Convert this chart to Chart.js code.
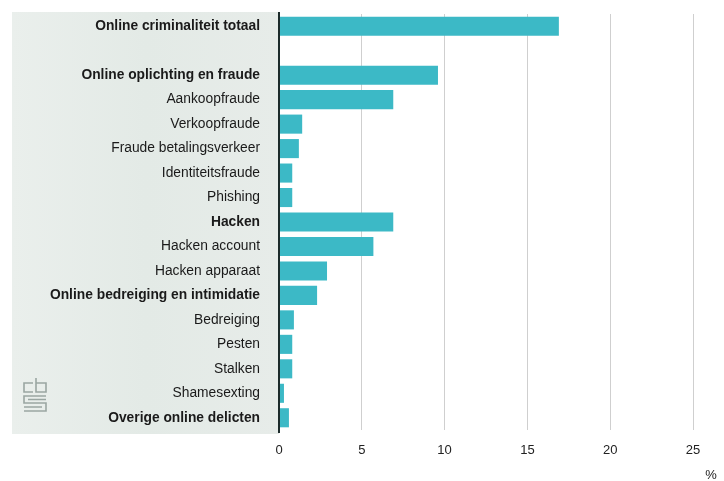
<!DOCTYPE html>
<html>
<head>
<meta charset="utf-8">
<script src="https://cdn.jsdelivr.net/npm/chart.js@4.4.0/dist/chart.umd.min.js"></script>
<style>
  html, body { margin: 0; padding: 0; background: #fff; }
  #wrap { width: 724px; height: 481px; position: relative; }
</style>
</head>
<body>
<div id="wrap"><canvas id="crime-chart"></canvas></div>
<script>
// categories (empty string = blank spacer row)
const categories = [
    "Online criminaliteit totaal",
    "",
    "Online oplichting en fraude",
    "Aankoopfraude",
    "Verkoopfraude",
    "Fraude betalingsverkeer",
    "Identiteitsfraude",
    "Phishing",
    "Hacken",
    "Hacken account",
    "Hacken apparaat",
    "Online bedreiging en intimidatie",
    "Bedreiging",
    "Pesten",
    "Stalken",
    "Shamesexting",
    "Overige online delicten"
];
const boldRows = [true, false, true, false, false, false, false, false, true, false, false, true, false, false, false, false, true];
const percentages = [16.9, null, 9.6, 6.9, 1.4, 1.2, 0.8, 0.8, 6.9, 5.7, 2.9, 2.3, 0.9, 0.8, 0.8, 0.3, 0.6];
const xTicks = [0, 5, 10, 15, 20, 25];

const FONT = "'Liberation Sans', Arial, sans-serif";

// light panel behind the labels, the dark zero line, logo and % sign
const decorations = {
    id: 'decorations',
    beforeDraw(chart) {
        const { ctx, chartArea } = chart;
        ctx.save();
        const g = ctx.createLinearGradient(12, 0, chartArea.left, 0);
        g.addColorStop(0, '#eaefec');
        g.addColorStop(0.5, '#e3eae6');
        g.addColorStop(1, '#e7ece9');
        ctx.fillStyle = g;
        ctx.fillRect(12, 12, chartArea.left - 12, 422);
        ctx.restore();
    },
    afterDraw(chart) {
        const { ctx, chartArea } = chart;
        ctx.save();
        // zero axis
        ctx.strokeStyle = '#1d2b2b';
        ctx.lineWidth = 2;
        ctx.beginPath();
        ctx.moveTo(chartArea.left, 12);
        ctx.lineTo(chartArea.left, 433);
        ctx.stroke();

        // cbs logo (rough)
        ctx.strokeStyle = '#9aa6a2';
        ctx.lineWidth = 1.6;
        ctx.beginPath();
        ctx.moveTo(33, 383); ctx.lineTo(24, 383); ctx.lineTo(24, 392); ctx.lineTo(33, 392);
        ctx.moveTo(36, 378); ctx.lineTo(36, 392); ctx.lineTo(46, 392); ctx.lineTo(46, 383); ctx.lineTo(36, 383);
        ctx.moveTo(46, 396); ctx.lineTo(24, 396); ctx.lineTo(24, 403); ctx.lineTo(46, 403); ctx.lineTo(46, 411); ctx.lineTo(24, 411);
        ctx.moveTo(28, 399.5); ctx.lineTo(46, 399.5);
        ctx.moveTo(24, 407); ctx.lineTo(42, 407);
        ctx.stroke();

        ctx.fillStyle = '#222';
        ctx.font = '13px ' + FONT;
        ctx.textAlign = 'center';
        ctx.textBaseline = 'middle';
        ctx.fillText('%', 711, 475);
        ctx.restore();
    }
};

const ctx = document.getElementById('crime-chart').getContext('2d');
const crimeChart = new Chart(ctx, {
    type: 'bar',
    data: {
        labels: categories,
        datasets: [{
            label: 'Slachtoffers (%)',
            data: percentages,
            backgroundColor: '#3cb9c6',
            borderWidth: 0,
            barPercentage: 0.78,
            categoryPercentage: 1
        }]
    },
    options: {
        indexAxis: 'y',
        responsive: true,
        maintainAspectRatio: false,
        animation: false,
        layout: { padding: { top: 14, right: 31, bottom: 0, left: 0 } },
        scales: {
            x: {
                min: 0,
                max: 25,
                afterBuildTicks: (scale) => { scale.ticks = xTicks.map(v => ({ value: v })); },
                border: { display: false },
                grid: {
                    drawTicks: false,
                    color: (c) => c.tick && c.tick.value === 0 ? 'rgba(0,0,0,0)' : '#cfcfcf',
                    lineWidth: 1
                },
                ticks: {
                    padding: 13,
                    color: '#222',
                    font: { family: FONT, size: 13 }
                },
                afterFit: (scale) => { scale.height = 51; }
            },
            y: {
                border: { display: false },
                // label gap comes from tickLength so the scale adds no extra top padding
                grid: { display: false, drawTicks: true, tickLength: 19 },
                ticks: {
                    padding: 0,
                    color: '#1a1a1a',
                    autoSkip: false,
                    font: (c) => ({ family: FONT, size: 13.8, weight: boldRows[c.index] ? 'bold' : 'normal' })
                },
                afterFit: (scale) => { scale.width = 279; }
            }
        },
        plugins: {
            legend: { display: false },
            tooltip: { enabled: false }
        }
    },
    plugins: [decorations]
});
</script>
</body>
</html>
